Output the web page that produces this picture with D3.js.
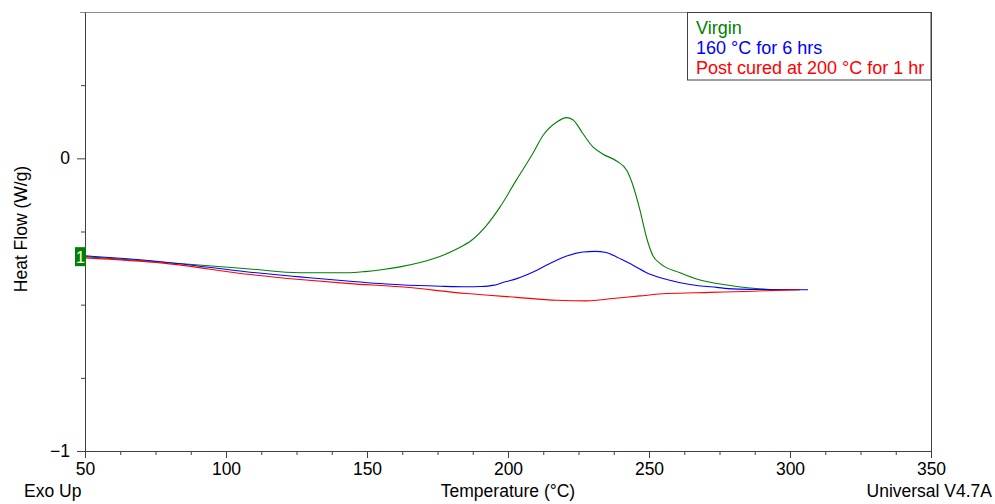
<html><head>
<meta charset="utf-8">
<title>DSC Heat Flow</title>
<script type="text/javascript" src="https://d3js.org/d3.v7.min.js"></script>
<style>
body { margin: 0; background: #fff; }
text { font-family: "Liberation Sans", Arial, sans-serif; }
</style>
</head>
<body>
<div id="chart"></div>
<script>

// temperature (°C) and heat flow (W/g)
var virginT = [50, 77.7, 108.5, 126.2, 142.9, 149.3, 155.7, 161.7, 168.8, 177.0, 182.0, 187.1, 192.4, 197.2, 203.1, 208.9, 212.4, 217.3, 220.8, 223.0, 226.6, 230.1, 233.7, 238.5, 242.1, 244.3, 246.8, 249.2, 251.4, 253.9, 261.0, 268.1, 277.6, 285.8, 292.9, 303.5];
var virginHF = [-0.336, -0.355, -0.378, -0.391, -0.391, -0.387, -0.380, -0.371, -0.356, -0.331, -0.309, -0.280, -0.229, -0.166, -0.072, 0.018, 0.078, 0.124, 0.139, 0.132, 0.084, 0.039, 0.014, -0.009, -0.041, -0.092, -0.177, -0.273, -0.333, -0.359, -0.391, -0.416, -0.433, -0.443, -0.448, -0.449];

var curedT = [50, 77.7, 108.5, 126.2, 144.0, 161.7, 175.9, 186.0, 190.1, 194.7, 199.0, 203.1, 208.9, 214.9, 220.8, 226.6, 230.9, 234.8, 238.5, 244.3, 250.4, 256.3, 264.5, 274.0, 279.8, 291.7, 306.4];
var curedHF = [-0.333, -0.354, -0.389, -0.405, -0.420, -0.432, -0.437, -0.439, -0.438, -0.434, -0.422, -0.411, -0.388, -0.359, -0.334, -0.320, -0.318, -0.322, -0.337, -0.365, -0.396, -0.414, -0.431, -0.441, -0.446, -0.448, -0.449];

var postT = [50, 77.7, 108.5, 126.2, 144.0, 161.7, 185.4, 203.1, 217.3, 227.9, 237.2, 246.8, 256.3, 271.6, 286.9, 295.3, 303.2];
var postHF = [-0.340, -0.358, -0.397, -0.414, -0.428, -0.439, -0.462, -0.475, -0.485, -0.487, -0.479, -0.470, -0.462, -0.458, -0.454, -0.451, -0.449];

var seriesNames = ["Virgin", "160 \u00B0C for 6 hrs", "Post cured at 200 \u00B0C for 1 hr"];
var seriesColors = ["#008000", "#0000ff", "#ff0000"];

var xMajor = [50, 100, 150, 200, 250, 300, 350];
var yLabelled = [0, -1];
var yMinor = [0.25, -0.25, -0.5, -0.75];

var W = 995, H = 504;
var plotLeft = 85, plotRight = 931, plotTop = 12, plotBottom = 451;

var svg = d3.select("#chart")
  .append("svg")
    .attr("width", W)
    .attr("height", H);

var xScale = d3.scaleLinear().domain([50, 350]).range([plotLeft, plotRight]);
var yScale = d3.scaleLinear().domain([-1, 0.5]).range([plotBottom, plotTop]);

// frame: top and right borders
svg.append("line")
  .attr("x1", plotLeft - 5).attr("x2", plotRight)
  .attr("y1", plotTop + 0.5).attr("y2", plotTop + 0.5)
  .attr("stroke", "#8c8c8c");
svg.append("line")
  .attr("x1", plotRight + 0.5).attr("x2", plotRight + 0.5)
  .attr("y1", plotTop).attr("y2", plotBottom)
  .attr("stroke", "#404040");

// x axis
var xMinorTicks = d3.range(50, 350.1, 12.5).filter(function(d) { return xMajor.indexOf(d) < 0; });
svg.append("g")
  .attr("transform", "translate(0," + plotBottom + ")")
  .call(d3.axisBottom(xScale).tickValues(xMinorTicks).tickSize(4).tickFormat(""))
  .call(function(g) { g.select(".domain").remove(); });
var gx = svg.append("g")
  .attr("transform", "translate(0," + plotBottom + ")")
  .call(d3.axisBottom(xScale).tickValues(xMajor).tickSize(7).tickSizeOuter(0).tickPadding(5).tickFormat(d3.format("d")));
gx.selectAll("text").style("font-size", "17.5px").attr("fill", "#000");

// y axis
svg.append("g")
  .attr("transform", "translate(" + plotLeft + ",0)")
  .call(d3.axisLeft(yScale).tickValues(yMinor).tickSize(4).tickFormat(""))
  .call(function(g) { g.select(".domain").remove(); });
var gy = svg.append("g")
  .attr("transform", "translate(" + plotLeft + ",0)")
  .call(d3.axisLeft(yScale).tickValues(yLabelled).tickSize(8).tickSizeOuter(0).tickPadding(7).tickFormat(d3.format("d")));
gy.selectAll("text").style("font-size", "17.5px").attr("fill", "#000");

svg.selectAll(".domain, .tick line").attr("stroke", "#404040");

// curves
var line = d3.line()
  .x(function(d) { return xScale(d[0]); })
  .y(function(d) { return yScale(d[1]); })
  .curve(d3.curveMonotoneX);

var curves = [d3.zip(virginT, virginHF), d3.zip(curedT, curedHF), d3.zip(postT, postHF)];
curves.forEach(function(pts, i) {
  svg.append("path")
    .datum(pts)
    .attr("fill", "none")
    .attr("stroke", seriesColors[i])
    .attr("stroke-width", 1.1)
    .attr("d", line);
});

// start marker
svg.append("rect")
  .attr("x", plotLeft - 10).attr("y", yScale(virginHF[0]) - 9.5)
  .attr("width", 11).attr("height", 19)
  .attr("fill", "#008000");
svg.append("text")
  .attr("x", plotLeft - 4.5).attr("y", yScale(virginHF[0]) + 6)
  .attr("text-anchor", "middle")
  .attr("fill", "#fff")
  .style("font-size", "16px")
  .text("1");

// legend
svg.append("rect")
  .attr("x", 687.5).attr("y", plotTop + 0.5)
  .attr("width", plotRight - 687.5).attr("height", 67.5)
  .attr("fill", "none")
  .attr("stroke", "#404040");
seriesNames.forEach(function(name, i) {
  svg.append("text")
    .attr("x", 696).attr("y", 33.5 + i * 20)
    .attr("fill", seriesColors[i])
    .style("font-size", "18px")
    .text(name);
});

// axis titles
svg.append("text")
  .attr("x", (plotLeft + plotRight) / 2).attr("y", 497)
  .attr("text-anchor", "middle")
  .style("font-size", "17.5px")
  .text("Temperature (\u00B0C)");

svg.append("text")
  .attr("transform", "translate(27,229) rotate(-90)")
  .attr("text-anchor", "middle")
  .style("font-size", "17.5px")
  .text("Heat Flow (W/g)");

svg.append("text")
  .attr("x", 24).attr("y", 497)
  .style("font-size", "17.5px")
  .text("Exo Up");

svg.append("text")
  .attr("x", 992).attr("y", 497)
  .attr("text-anchor", "end")
  .style("font-size", "17.5px")
  .text("Universal V4.7A");

</script>
</body></html>
